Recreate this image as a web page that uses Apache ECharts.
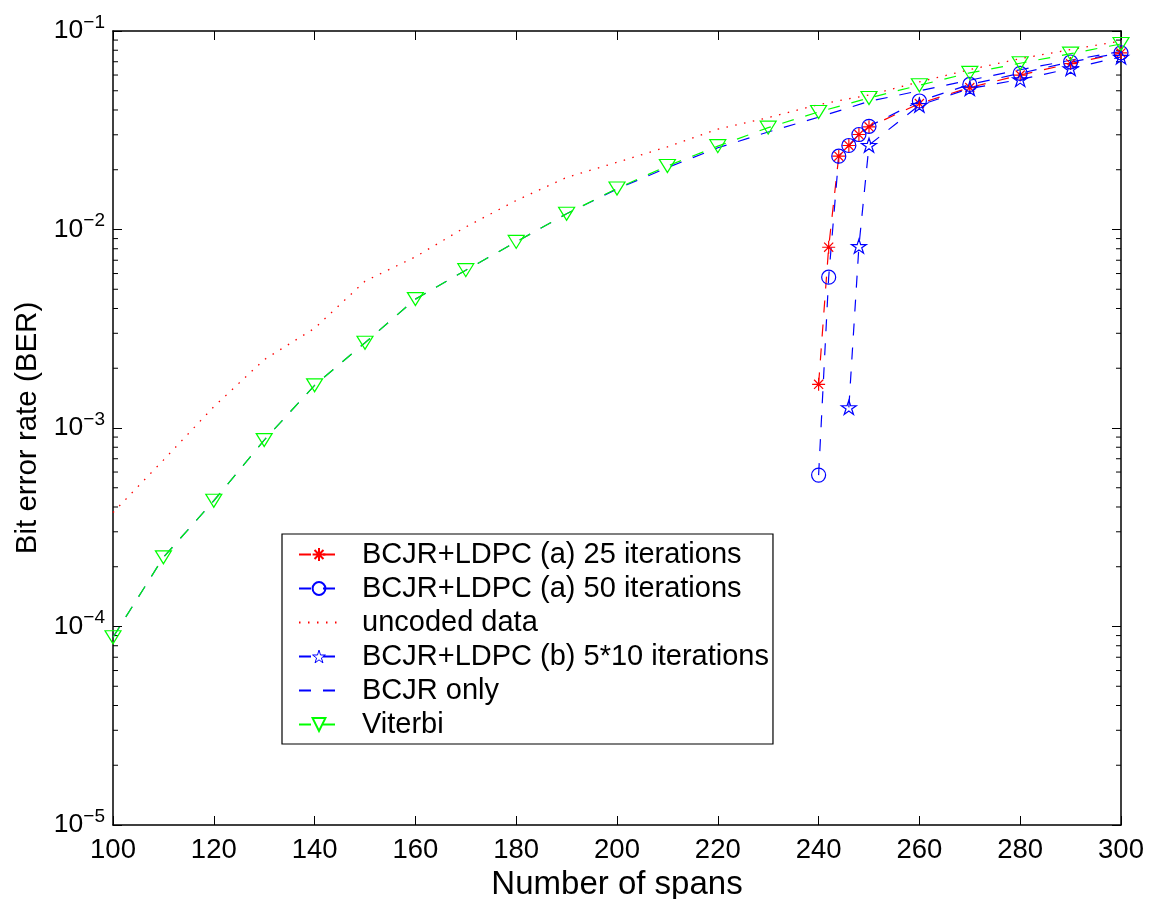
<!DOCTYPE html>
<html>
<head>
<meta charset="utf-8">
<script src="https://cdn.jsdelivr.net/npm/echarts@6/dist/echarts.min.js"></script>
<style>
html,body{margin:0;padding:0;background:#fff;}
#chart{width:1156px;height:899px;}
</style>
</head>
<body>
<div id="chart"></div>
<script>
// ---- data ----
const spans = [100,110,120,130,140,150,160,170,180,190,200,210,220,230,240,250,260,270,280,290,300];
const viterbi = [8.83e-5,2.23e-4,4.3e-4,8.69e-4,1.64e-3,2.69e-3,4.46e-3,6.24e-3,8.66e-3,1.20e-2,1.61e-2,2.09e-2,2.63e-2,3.26e-2,3.91e-2,4.6e-2,5.33e-2,6.15e-2,6.88e-2,7.69e-2,8.6e-2];
const bcjrOnly = [8.83e-5,2.23e-4,4.3e-4,8.69e-4,1.64e-3,2.69e-3,4.46e-3,6.24e-3,8.66e-3,1.20e-2,1.60e-2,2.05e-2,2.58e-2,3.1e-2,3.68e-2,4.42e-2,5.0e-2,5.65e-2,6.38e-2,7.12e-2,7.9e-2];
const uncoded = [3.75e-4,6.89e-4,1.28e-3,2.21e-3,3.18e-3,5.49e-3,7.28e-3,1.03e-2,1.40e-2,1.83e-2,2.18e-2,2.61e-2,3.2e-2,3.66e-2,4.26e-2,4.76e-2,5.54e-2,6.39e-2,7.26e-2,8.06e-2,8.9e-2];
const ldpcSpans = [240,242,244,246,248,250,260,270,280,290,300];
const ldpc25 = [1.66e-3,8.14e-3,2.34e-2,2.65e-2,3.01e-2,3.29e-2,4.31e-2,5.19e-2,6.0e-2,6.85e-2,7.75e-2];
const ldpc50 = [5.79e-4,5.75e-3,2.34e-2,2.65e-2,3.01e-2,3.31e-2,4.44e-2,5.38e-2,6.12e-2,6.98e-2,7.77e-2];
const ldpcBSpans = [246,248,250,260,270,280,290,300];
const ldpcB = [1.27e-3,8.24e-3,2.66e-2,4.23e-2,5.13e-2,5.7e-2,6.47e-2,7.4e-2];
const names = ['BCJR+LDPC (a) 25 iterations','BCJR+LDPC (a) 50 iterations','uncoded data','BCJR+LDPC (b) 5*10 iterations','BCJR only','Viterbi'];
const xTicks = {min:100, max:300, step:20};
const yRange = {min:1e-5, max:1e-1};

// ---- build ----
const pair = (xs, ys) => xs.map((x, i) => [x, ys[i]]);
const minorVals = [];
for (let e = -5; e <= -2; e++) for (let k = 2; k <= 9; k++) minorVals.push([xTicks.min, k * Math.pow(10, e)]);

const FONT = 'Liberation Sans, Arial, Helvetica, sans-serif';
const RED = '#ff0000', BLUE = '#0000ff', GREEN = '#00ff00';
const DASH = [12, 12];
const ASTER = 'path://M0 -1 L0 1 M-1 0 L1 0 M-0.7 -0.7 L0.7 0.7 M-0.7 0.7 L0.7 -0.7';
const STAR = 'path://M0 -1 L0.223 -0.307 L0.951 -0.309 L0.361 0.117 L0.588 0.809 L0 0.38 L-0.588 0.809 L-0.361 0.117 L-0.951 -0.309 L-0.223 -0.307 Z';
const TRI = 'path://M0 0 L2 0 L1 1.6 Z';
const hollow = c => ({color: 'rgba(0,0,0,0)', borderColor: c, borderWidth: 1.2});
const noMark = {color: 'rgba(0,0,0,0)', borderColor: 'rgba(0,0,0,0)', borderWidth: 0};

const chart = echarts.init(document.getElementById('chart'), null, {renderer: 'canvas'});
const yLabel = v => {
  const e = Math.round(Math.log10(v));
  return '{b|10}{s|\u2212' + Math.abs(e) + '}';
};
const option = {
  animation: false,
  backgroundColor: '#fff',
  textStyle: {fontFamily: FONT},
  grid: {left: 113, right: 35, top: 31, bottom: 74, show: false, containLabel: false, outerBoundsMode: 'none'},
  xAxis: [{
    type: 'value', min: xTicks.min, max: xTicks.max, interval: xTicks.step,
    position: 'bottom',
    name: 'Number of spans', nameLocation: 'middle', nameGap: 35,
    nameTextStyle: {fontSize: 33, color: '#000', fontFamily: FONT},
    axisLine: {show: true, lineStyle: {color: '#000', width: 1.5}},
    axisTick: {show: true, inside: true, length: 9, lineStyle: {color: '#000', width: 1}},
    axisLabel: {fontSize: 27.5, color: '#000', margin: 11, fontFamily: FONT},
    splitLine: {show: false}
  }, {
    type: 'value', min: xTicks.min, max: xTicks.max, interval: xTicks.step,
    position: 'top',
    axisLine: {show: true, lineStyle: {color: '#000', width: 1.5}},
    axisTick: {show: true, inside: true, length: 9, lineStyle: {color: '#000', width: 1}},
    axisLabel: {show: false}, splitLine: {show: false}
  }],
  yAxis: [{
    type: 'log', logBase: 10, min: yRange.min, max: yRange.max,
    position: 'left',
    name: 'Bit error rate (BER)', nameLocation: 'middle', nameGap: 70, nameRotate: 90,
    nameTextStyle: {fontSize: 29.5, color: '#000', fontFamily: FONT},
    axisLine: {show: true, lineStyle: {color: '#000', width: 1.5}},
    axisTick: {show: true, inside: true, length: 9, lineStyle: {color: '#000', width: 1}},
    axisLabel: {
      margin: 8, color: '#000', formatter: yLabel,
      rich: {
        b: {fontSize: 26.5, fontFamily: FONT, color: '#000'},
        s: {fontSize: 19, fontFamily: FONT, color: '#000', padding: [0, 0, 17, 0]}
      }
    },
    splitLine: {show: false}
  }, {
    type: 'log', logBase: 10, min: yRange.min, max: yRange.max,
    position: 'right',
    axisLine: {show: true, lineStyle: {color: '#000', width: 1.5}},
    axisTick: {show: true, inside: true, length: 9, lineStyle: {color: '#000', width: 1}},
    axisLabel: {show: false}, splitLine: {show: false}
  }],
  legend: {
    data: [
      {name: names[0]},
      {name: names[1]},
      {name: names[2], itemStyle: noMark},
      {name: names[3], itemStyle: {color: 'rgba(0,0,0,0)', borderColor: BLUE, borderWidth: 1}},
      {name: names[4], itemStyle: noMark},
      {name: names[5]}
    ],
    orient: 'vertical',
    left: 282, top: 534,
    padding: [6, 4, 5, 16],
    itemWidth: 40, itemHeight: 16, itemGap: 5,
    backgroundColor: '#fff',
    borderColor: '#000', borderWidth: 1.2, borderRadius: 0,
    textStyle: {fontSize: 29, color: '#000', fontFamily: FONT, padding: [0, 0, 0, 18]}
  },
  series: [
    {
      name: names[0], type: 'line', data: pair(ldpcSpans, ldpc25),
      symbol: ASTER, symbolSize: 13, itemStyle: hollow(RED),
      lineStyle: {color: RED, width: 1.2, type: DASH}, z: 3
    },
    {
      name: names[1], type: 'line', data: pair(ldpcSpans, ldpc50),
      symbol: 'circle', symbolSize: 14, itemStyle: hollow(BLUE),
      lineStyle: {color: BLUE, width: 1.2, type: DASH}, z: 3
    },
    {
      name: names[2], type: 'line', data: pair(spans, uncoded),
      symbol: 'none', itemStyle: {color: RED},
      lineStyle: {color: RED, width: 1.3, type: [1.5, 7.5]}, z: 2
    },
    {
      name: names[3], type: 'line', data: pair(ldpcBSpans, ldpcB),
      symbol: STAR, symbolSize: [15, 14], itemStyle: hollow(BLUE),
      lineStyle: {color: BLUE, width: 1.2, type: DASH}, z: 3
    },
    {
      name: names[4], type: 'line', data: pair(spans, bcjrOnly),
      symbol: 'none', itemStyle: {color: BLUE},
      lineStyle: {color: BLUE, width: 1.2, type: DASH}, z: 3
    },
    {
      name: names[5], type: 'line', data: pair(spans, viterbi),
      symbol: TRI, symbolSize: [16, 13], itemStyle: hollow(GREEN),
      lineStyle: {color: GREEN, width: 1.2, type: DASH}, z: 4
    },
    {
      name: 'minor', type: 'custom', silent: true, data: minorVals,
      renderItem: (params, api) => {
        const v = api.value(1);
        const a = api.coord([xTicks.min, v]);
        const b = api.coord([xTicks.max, v]);
        return {type: 'group', children: [
          {type: 'line', shape: {x1: a[0], y1: a[1], x2: a[0] + 5, y2: a[1]}, style: {stroke: '#000', lineWidth: 1}},
          {type: 'line', shape: {x1: b[0] - 5, y1: b[1], x2: b[0], y2: b[1]}, style: {stroke: '#000', lineWidth: 1}}
        ]};
      },
      z: 1
    }
  ]
};
chart.setOption(option);
</script>
</body>
</html>
